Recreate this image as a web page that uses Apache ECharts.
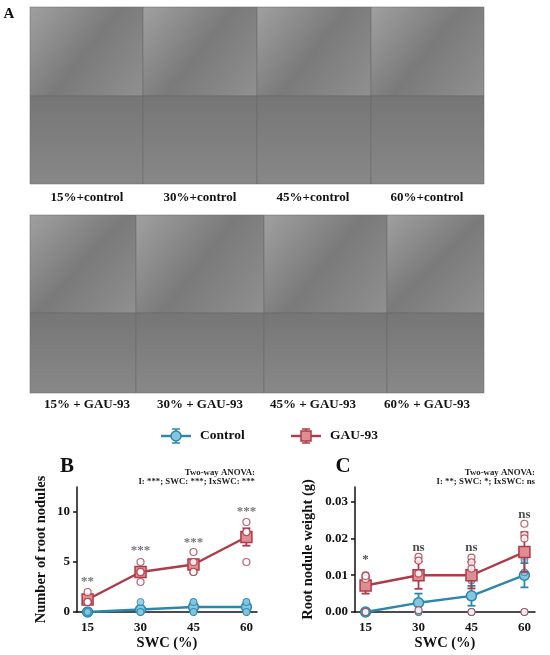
<!DOCTYPE html>
<html>
<head>
<meta charset="utf-8">
<script src="https://cdn.jsdelivr.net/npm/echarts@6/dist/echarts.min.js"></script>
<style>
  html, body { margin: 0; padding: 0; background: #fff; }
  #main { width: 550px; height: 655px; }
</style>
</head>
<body>
<div id="main"></div>
<script>
// soil water content levels
var swc = [15, 30, 45, 60];

// B: number of root nodules
var nodGauMean = [1.25, 4.0, 4.75, 7.5];
var nodGauErr = [0.25, 0.41, 0.48, 0.87];
var nodGauPts = [[2, 1, 1, 1], [5, 4, 3, 4], [6, 5, 4, 4], [9, 8, 8, 5]];
var nodCtlMean = [0, 0.25, 0.5, 0.5];
var nodCtlErr = [0, 0.25, 0.29, 0.29];
var nodCtlPts = [[0, 0, 0, 0], [1, 0, 0, 0], [1, 1, 0, 0], [1, 1, 0, 0]];
var nodSig = ['**', '***', '***', '***'];
var nodSigY = [3.0, 6.1, 6.9, 10.0];

// C: root nodule weight (g)
var wtGauMean = [0.0072, 0.0100, 0.0100, 0.0163];
var wtGauErr = [0.0022, 0.0037, 0.0036, 0.0054];
var wtGauPts = [[0.0100, 0.0090, 0.0098, 0], [0.0150, 0.0140, 0.0105, 0.0005], [0.0148, 0.0135, 0.0118, 0], [0.0240, 0.0210, 0.0200, 0]];
var wtCtlMean = [0, 0.0025, 0.0044, 0.0100];
var wtCtlErr = [0, 0.0025, 0.0027, 0.0033];
var wtCtlPts = [[0, 0, 0, 0], [0.0100, 0, 0, 0], [0.0090, 0.0085, 0, 0], [0.0150, 0.0142, 0.0108, 0]];
var wtSig = ['*', 'ns', 'ns', 'ns'];
var wtSigY = [0.0142, 0.0176, 0.0176, 0.0265];

// SEM panel captions
var topLabels = ['15%+control', '30%+control', '45%+control', '60%+control'];
var botLabels = ['15% + GAU-93', '30% + GAU-93', '45% + GAU-93', '60% + GAU-93'];

var RED = '#b03a48', RED_FILL = '#dc8e93';
var BLUE = '#2d87aa', BLUE_FILL = '#82c6df';
var FONT = '"Liberation Serif", "DejaVu Serif", serif';

var chart = echarts.init(document.getElementById('main'));

function pairs(means) {
    return swc.map(function (x, i) { return [x, means[i]]; });
}
function bars(means, errs) {
    return swc.map(function (x, i) { return [x, means[i] - errs[i], means[i] + errs[i]]; });
}
function points(pts) {
    var out = [];
    swc.forEach(function (x, i) {
        pts[i].forEach(function (v) { out.push([x, v]); });
    });
    return out;
}
function sigs(texts, ys) {
    return swc.map(function (x, i) { return {value: [x, ys[i]], label: {formatter: texts[i]}}; });
}

function errRender(color) {
    return function (params, api) {
        var x = api.value(0);
        var lo = api.coord([x, api.value(1)]);
        var hi = api.coord([x, api.value(2)]);
        var w = 4;
        var st = {stroke: color, lineWidth: 1.8};
        return {
            type: 'group',
            children: [
                {type: 'line', shape: {x1: lo[0], y1: lo[1], x2: hi[0], y2: hi[1]}, style: st},
                {type: 'line', shape: {x1: lo[0] - w, y1: lo[1], x2: lo[0] + w, y2: lo[1]}, style: st},
                {type: 'line', shape: {x1: hi[0] - w, y1: hi[1], x2: hi[0] + w, y2: hi[1]}, style: st}
            ]
        };
    };
}

function panelSeries(idx, gMean, gErr, gPts, cMean, cErr, cPts, sT, sY, sigColor) {
    return [
        {type: 'custom', xAxisIndex: idx, yAxisIndex: idx, renderItem: errRender(BLUE),
            data: bars(cMean, cErr), z: 3, silent: true},
        {type: 'line', name: 'Control', xAxisIndex: idx, yAxisIndex: idx, data: pairs(cMean),
            symbol: 'circle', symbolSize: 10, lineStyle: {color: BLUE, width: 2.4},
            itemStyle: {color: BLUE_FILL, borderColor: BLUE, borderWidth: 1.5}, z: 4},
        {type: 'scatter', xAxisIndex: idx, yAxisIndex: idx, data: points(cPts),
            symbol: 'circle', symbolSize: 7,
            itemStyle: {color: BLUE_FILL, borderColor: BLUE, borderWidth: 1}, z: 5},
        {type: 'custom', xAxisIndex: idx, yAxisIndex: idx, renderItem: errRender(RED),
            data: bars(gMean, gErr), z: 6, silent: true},
        {type: 'line', name: 'GAU-93', xAxisIndex: idx, yAxisIndex: idx, data: pairs(gMean),
            symbol: 'rect', symbolSize: 11, lineStyle: {color: RED, width: 2.4},
            itemStyle: {color: RED_FILL, borderColor: RED, borderWidth: 1.5}, z: 7},
        {type: 'scatter', xAxisIndex: idx, yAxisIndex: idx, data: points(gPts),
            symbol: 'circle', symbolSize: 7,
            itemStyle: {color: '#fff', borderColor: RED, borderWidth: 1.2}, z: 8},
        {type: 'scatter', xAxisIndex: idx, yAxisIndex: idx, data: sigs(sT, sY),
            symbolSize: 0, silent: true, z: 9,
            label: {show: true, position: 'inside', color: sigColor, fontFamily: FONT,
                fontWeight: 'bold', fontSize: 13}}
    ];
}

var xAxisBase = {
    type: 'value', min: 12, max: 63,
    axisLine: {lineStyle: {color: '#111', width: 1.5}},
    axisTick: {show: true, length: 4, customValues: swc, lineStyle: {color: '#111', width: 1.5}},
    axisLabel: {customValues: swc, color: '#111', fontFamily: FONT, fontWeight: 'bold', fontSize: 13, margin: 9},
    splitLine: {show: false},
    name: 'SWC (%)', nameLocation: 'middle', nameGap: 24,
    nameTextStyle: {color: '#111', fontFamily: FONT, fontWeight: 'bold', fontSize: 14.5}
};

function yAxis(max, ticks, name, gap, fmt) {
    return {
        type: 'value', min: 0, max: max,
        axisLine: {show: true, lineStyle: {color: '#111', width: 1.5}},
        axisTick: {show: true, length: 4, customValues: ticks, lineStyle: {color: '#111', width: 1.5}},
        axisLabel: {customValues: ticks, color: '#111', fontFamily: FONT, fontWeight: 'bold', fontSize: 13,
            margin: 7, formatter: fmt},
        splitLine: {show: false},
        name: name, nameLocation: 'middle', nameGap: gap,
        nameTextStyle: {color: '#111', fontFamily: FONT, fontWeight: 'bold', fontSize: 14.5}
    };
}

// SEM image placeholders
var graphics = [];
var topCols = [30, 143, 257, 371, 484];
var botCols = [30, 136, 264, 387, 484];
function tiles(cols, y0, ySplit, y1) {
    for (var i = 0; i < 4; i++) {
        graphics.push({type: 'rect', shape: {x: cols[i], y: y0, width: cols[i + 1] - cols[i], height: ySplit - y0},
            style: {fill: new echarts.graphic.LinearGradient(0, 0, 1, 1,
                [{offset: 0, color: '#a0a0a0'}, {offset: 0.5, color: '#7a7a7a'}, {offset: 1, color: '#909090'}]),
                stroke: '#666', lineWidth: 0.5}});
        graphics.push({type: 'rect', shape: {x: cols[i], y: ySplit, width: cols[i + 1] - cols[i], height: y1 - ySplit},
            style: {fill: new echarts.graphic.LinearGradient(0, 0, 0, 1,
                [{offset: 0, color: '#767676'}, {offset: 1, color: '#888888'}]),
                stroke: '#666', lineWidth: 0.5}});
    }
}
tiles(topCols, 7, 96, 184);
tiles(botCols, 215, 313, 393);

var labelX = [87, 200, 313, 427];
labelX.forEach(function (x, i) {
    graphics.push({type: 'text', x: x, y: 198, style: {text: topLabels[i], fill: '#111', font: 'bold 13px ' + FONT,
        textAlign: 'center', textVerticalAlign: 'middle'}});
    graphics.push({type: 'text', x: x, y: 405, style: {text: botLabels[i], fill: '#111', font: 'bold 13px ' + FONT,
        textAlign: 'center', textVerticalAlign: 'middle'}});
});

graphics.push({type: 'text', x: 9, y: 14, style: {text: 'A', fill: '#111', font: 'bold 15px ' + FONT,
    textAlign: 'center', textVerticalAlign: 'middle'}});
graphics.push({type: 'text', x: 67, y: 467, style: {text: 'B', fill: '#111', font: 'bold 21px ' + FONT,
    textAlign: 'center', textVerticalAlign: 'middle'}});
graphics.push({type: 'text', x: 343, y: 467, style: {text: 'C', fill: '#111', font: 'bold 21px ' + FONT,
    textAlign: 'center', textVerticalAlign: 'middle'}});
graphics.push({type: 'text', x: 255, y: 477, style: {text: 'Two-way ANOVA:\nI: ***; SWC: ***; IxSWC: ***',
    fill: '#222', font: 'bold 8.8px ' + FONT, lineHeight: 9, textAlign: 'right', textVerticalAlign: 'middle'}});
graphics.push({type: 'text', x: 535, y: 477, style: {text: 'Two-way ANOVA:\nI: **; SWC: *; IxSWC: ns',
    fill: '#222', font: 'bold 8.8px ' + FONT, lineHeight: 9, textAlign: 'right', textVerticalAlign: 'middle'}});

// legend
function legendIcon(cx, cy, color, fill, square) {
    graphics.push({type: 'line', shape: {x1: cx - 15, y1: cy, x2: cx + 15, y2: cy}, style: {stroke: color, lineWidth: 2.4}});
    graphics.push({type: 'line', shape: {x1: cx, y1: cy - 7, x2: cx, y2: cy + 7}, style: {stroke: color, lineWidth: 1.5}});
    graphics.push({type: 'line', shape: {x1: cx - 4, y1: cy - 7, x2: cx + 4, y2: cy - 7}, style: {stroke: color, lineWidth: 1.5}});
    graphics.push({type: 'line', shape: {x1: cx - 4, y1: cy + 7, x2: cx + 4, y2: cy + 7}, style: {stroke: color, lineWidth: 1.5}});
    if (square) {
        graphics.push({type: 'rect', shape: {x: cx - 5, y: cy - 5, width: 10, height: 10},
            style: {fill: fill, stroke: color, lineWidth: 1.5}});
    } else {
        graphics.push({type: 'circle', shape: {cx: cx, cy: cy, r: 5}, style: {fill: fill, stroke: color, lineWidth: 1.5}});
    }
}
legendIcon(176, 436, BLUE, BLUE_FILL, false);
legendIcon(306, 436, RED, RED_FILL, true);
graphics.push({type: 'text', x: 200, y: 436, style: {text: 'Control', fill: '#111', font: 'bold 13.5px ' + FONT,
    textVerticalAlign: 'middle'}});
graphics.push({type: 'text', x: 330, y: 436, style: {text: 'GAU-93', fill: '#111', font: 'bold 13.5px ' + FONT,
    textVerticalAlign: 'middle'}});

chart.setOption({
    animation: false,
    grid: [
        {left: 77, top: 487, width: 180, height: 125},
        {left: 355, top: 487, width: 180, height: 125}
    ],
    xAxis: [
        Object.assign({gridIndex: 0}, xAxisBase),
        Object.assign({gridIndex: 1}, xAxisBase)
    ],
    yAxis: [
        Object.assign({gridIndex: 0}, yAxis(12.5, [0, 5, 10], 'Number of root nodules', 28)),
        Object.assign({gridIndex: 1}, yAxis(0.034, [0, 0.01, 0.02, 0.03], 'Root nodule weight (g)', 39,
            function (v) { return v.toFixed(2); }))
    ],
    graphic: graphics,
    series: [].concat(
        panelSeries(0, nodGauMean, nodGauErr, nodGauPts, nodCtlMean, nodCtlErr, nodCtlPts, nodSig, nodSigY, '#555'),
        panelSeries(1, wtGauMean, wtGauErr, wtGauPts, wtCtlMean, wtCtlErr, wtCtlPts, wtSig, wtSigY, '#222')
    )
});
</script>
</body>
</html>
